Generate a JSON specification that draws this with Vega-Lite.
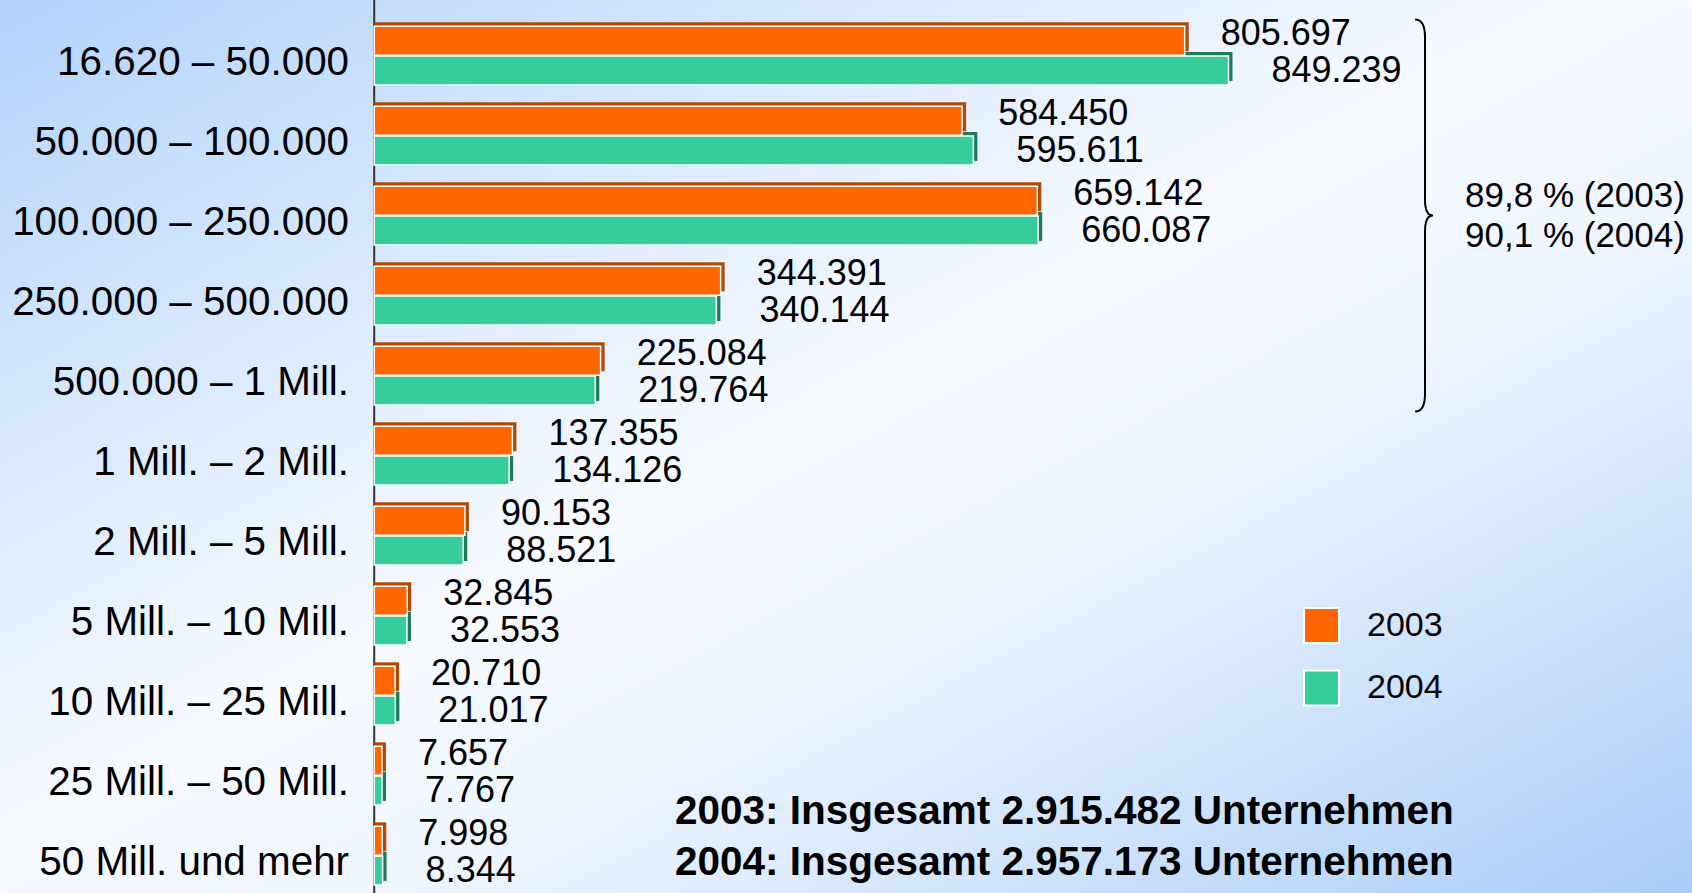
{
  "$schema": "https://vega.github.io/schema/vega-lite/v6.json",
  "width": 1692,
  "height": 893,
  "padding": 0,
  "autosize": {"type": "none"},
  "background": "#ffffff",
  "view": {"stroke": null},
  "config": {
    "font": "Liberation Sans",
    "legend": {
      "orient": "none",
      "legendX": 1303,
      "legendY": 607,
      "padding": 0,
      "labelFontSize": 34,
      "labelFont": "Liberation Sans",
      "labelColor": "#000000",
      "symbolSize": 1225,
      "symbolType": "square",
      "symbolStrokeColor": "#ffffff",
      "symbolStrokeWidth": 2,
      "symbolOpacity": 1,
      "rowPadding": 19.5,
      "labelOffset": 27
    }
  },
  "data": {
    "values": [
      {"category": "16.620 – 50.000", "year": "2003", "value": 805697},
      {"category": "16.620 – 50.000", "year": "2004", "value": 849239},
      {"category": "50.000 – 100.000", "year": "2003", "value": 584450},
      {"category": "50.000 – 100.000", "year": "2004", "value": 595611},
      {"category": "100.000 – 250.000", "year": "2003", "value": 659142},
      {"category": "100.000 – 250.000", "year": "2004", "value": 660087},
      {"category": "250.000 – 500.000", "year": "2003", "value": 344391},
      {"category": "250.000 – 500.000", "year": "2004", "value": 340144},
      {"category": "500.000 – 1 Mill.", "year": "2003", "value": 225084},
      {"category": "500.000 – 1 Mill.", "year": "2004", "value": 219764},
      {"category": "1 Mill. – 2 Mill.", "year": "2003", "value": 137355},
      {"category": "1 Mill. – 2 Mill.", "year": "2004", "value": 134126},
      {"category": "2 Mill. – 5 Mill.", "year": "2003", "value": 90153},
      {"category": "2 Mill. – 5 Mill.", "year": "2004", "value": 88521},
      {"category": "5 Mill. – 10 Mill.", "year": "2003", "value": 32845},
      {"category": "5 Mill. – 10 Mill.", "year": "2004", "value": 32553},
      {"category": "10 Mill. – 25 Mill.", "year": "2003", "value": 20710},
      {"category": "10 Mill. – 25 Mill.", "year": "2004", "value": 21017},
      {"category": "25 Mill. – 50 Mill.", "year": "2003", "value": 7657},
      {"category": "25 Mill. – 50 Mill.", "year": "2004", "value": 7767},
      {"category": "50 Mill. und mehr", "year": "2003", "value": 7998},
      {"category": "50 Mill. und mehr", "year": "2004", "value": 8344}
    ]
  },
  "layer": [
    {
      "data": {"values": [{"a": 1}]},
      "mark": {
        "type": "rect",
        "color": {
          "gradient": "linear",
          "x1": 0, "y1": 0, "x2": 1, "y2": 1,
          "stops": [
            {"offset": 0, "color": "#b2d3fc"},
            {"offset": 0.47, "color": "#f7faff"},
            {"offset": 0.62, "color": "#eef5ff"},
            {"offset": 1, "color": "#a9cdf9"}
          ]
        }
      },
      "encoding": {
        "x": {"datum": -372000, "type": "quantitative", "axis": null},
        "x2": {"datum": 1310000}
      }
    },
    {
      "data": {"values": [{"a": 1}]},
      "mark": {"type": "rule", "color": "#333333", "strokeWidth": 2},
      "encoding": {"x": {"datum": 0, "type": "quantitative", "axis": null}}
    },
    {
      "transform": [{"filter": "datum.year === '2003'"}],
      "mark": {"type": "bar", "height": 29, "xOffset": 4, "yOffset": -18.8, "color": "#b44800"},
      "encoding": {
        "y": {
          "field": "category", "type": "nominal", "axis": null,
          "scale": {
            "domain": ["16.620 – 50.000", "50.000 – 100.000", "100.000 – 250.000", "250.000 – 500.000", "500.000 – 1 Mill.", "1 Mill. – 2 Mill.", "2 Mill. – 5 Mill.", "5 Mill. – 10 Mill.", "10 Mill. – 25 Mill.", "25 Mill. – 50 Mill.", "50 Mill. und mehr"],
            "paddingInner": 0.26, "paddingOuter": 0.211, "align": 0.77
          }
        },
        "x": {"field": "value", "type": "quantitative", "stack": null, "axis": null,
              "scale": {"domain": [-372000, 1310000], "nice": false, "zero": false}}
      }
    },
    {
      "transform": [{"filter": "datum.year === '2004'"}],
      "mark": {"type": "bar", "height": 29, "xOffset": 4, "yOffset": 10.8, "color": "#1f7a5c"},
      "encoding": {
        "y": {"field": "category", "type": "nominal", "axis": null},
        "x": {"field": "value", "type": "quantitative", "stack": null, "axis": null}
      }
    },
    {
      "transform": [{"filter": "datum.year === '2003'"}],
      "mark": {"type": "bar", "height": 29, "yOffset": -14.8, "stroke": "#ffffff", "strokeWidth": 1.5},
      "encoding": {
        "y": {"field": "category", "type": "nominal", "axis": null},
        "x": {"field": "value", "type": "quantitative", "stack": null, "axis": null},
        "color": {"field": "year", "type": "nominal", "title": null,
                  "scale": {"domain": ["2003", "2004"], "range": ["#ff6600", "#36cd9c"]}}
      }
    },
    {
      "transform": [{"filter": "datum.year === '2004'"}],
      "mark": {"type": "bar", "height": 29, "yOffset": 14.8, "stroke": "#ffffff", "strokeWidth": 1.5},
      "encoding": {
        "y": {"field": "category", "type": "nominal", "axis": null},
        "x": {"field": "value", "type": "quantitative", "stack": null, "axis": null},
        "color": {"field": "year", "type": "nominal", "title": null}
      }
    },
    {
      "transform": [
        {"filter": "datum.year === '2003'"},
        {"calculate": "replace(format(datum.value, ',d'), ',', '.')", "as": "label"}
      ],
      "mark": {"type": "text", "align": "left", "baseline": "middle", "dx": 36, "dy": -22, "fontSize": 36, "color": "#000000"},
      "encoding": {
        "y": {"field": "category", "type": "nominal", "axis": null},
        "x": {"field": "value", "type": "quantitative", "axis": null},
        "text": {"field": "label", "type": "nominal"}
      }
    },
    {
      "transform": [
        {"filter": "datum.year === '2004'"},
        {"calculate": "replace(format(datum.value, ',d'), ',', '.')", "as": "label"}
      ],
      "mark": {"type": "text", "align": "left", "baseline": "middle", "dx": 43, "dy": 15, "fontSize": 36, "color": "#000000"},
      "encoding": {
        "y": {"field": "category", "type": "nominal", "axis": null},
        "x": {"field": "value", "type": "quantitative", "axis": null},
        "text": {"field": "label", "type": "nominal"}
      }
    },
    {
      "transform": [{"filter": "datum.year === '2003'"}],
      "mark": {"type": "text", "align": "right", "baseline": "middle", "dy": 7, "fontSize": 40.4, "color": "#000000"},
      "encoding": {
        "y": {"field": "category", "type": "nominal", "axis": null},
        "x": {"datum": -25000, "type": "quantitative", "axis": null},
        "text": {"field": "category", "type": "nominal"}
      }
    },
    {
      "data": {"values": [{"a": 1}]},
      "mark": {
        "type": "point",
        "shape": "M -0.05,-0.99 Q 0,-0.99 0,-0.9 L 0,-0.08 Q 0,0 0.04,0 Q 0,0 0,0.08 L 0,0.9 Q 0,0.99 -0.05,0.99",
        "size": 156816,
        "filled": false,
        "stroke": "#000000",
        "strokeWidth": 2,
        "opacity": 1
      },
      "encoding": {
        "x": {"datum": 1044600, "type": "quantitative", "axis": null},
        "y": {"datum": "100.000 – 250.000", "type": "nominal", "axis": null}
      }
    },
    {
      "data": {"values": [{"a": 1}]},
      "mark": {"type": "text", "align": "left", "baseline": "middle", "fontSize": 35, "dy": -20, "color": "#000000", "text": "89,8 % (2003)"},
      "encoding": {
        "x": {"datum": 1084400, "type": "quantitative", "axis": null},
        "y": {"datum": "100.000 – 250.000", "type": "nominal", "axis": null}
      }
    },
    {
      "data": {"values": [{"a": 1}]},
      "mark": {"type": "text", "align": "left", "baseline": "middle", "fontSize": 35, "dy": 20, "color": "#000000", "text": "90,1 % (2004)"},
      "encoding": {
        "x": {"datum": 1084400, "type": "quantitative", "axis": null},
        "y": {"datum": "100.000 – 250.000", "type": "nominal", "axis": null}
      }
    },
    {
      "data": {"values": [{"a": 1}]},
      "mark": {"type": "text", "align": "left", "baseline": "middle", "fontSize": 40.5, "fontWeight": "bold", "dy": -44, "color": "#000000",
               "text": "2003: Insgesamt 2.915.482 Unternehmen"},
      "encoding": {
        "x": {"datum": 299000, "type": "quantitative", "axis": null},
        "y": {"datum": "50 Mill. und mehr", "type": "nominal", "axis": null}
      }
    },
    {
      "data": {"values": [{"a": 1}]},
      "mark": {"type": "text", "align": "left", "baseline": "middle", "fontSize": 40.5, "fontWeight": "bold", "dy": 7, "color": "#000000",
               "text": "2004: Insgesamt 2.957.173 Unternehmen"},
      "encoding": {
        "x": {"datum": 299000, "type": "quantitative", "axis": null},
        "y": {"datum": "50 Mill. und mehr", "type": "nominal", "axis": null}
      }
    }
  ]
}
